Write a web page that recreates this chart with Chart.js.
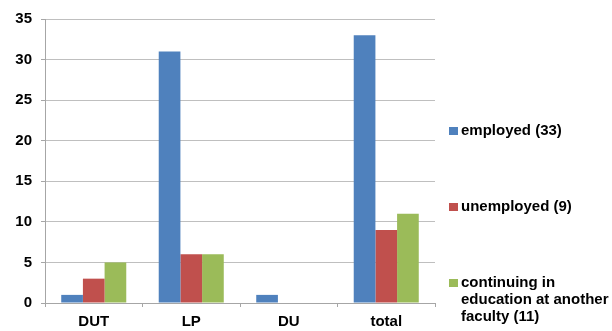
<!DOCTYPE html>
<html>
<head>
<meta charset="utf-8">
<script src="https://cdn.jsdelivr.net/npm/chart.js@4/dist/chart.umd.min.js"></script>
<style>
  html, body { margin: 0; padding: 0; background: #fff; }
  #wrap { position: relative; width: 612px; height: 331px; }
</style>
</head>
<body>
<div id="wrap"><canvas id="c" width="612" height="331"></canvas></div>
<script>
// Graduate outcomes by programme
const categories = ['DUT', 'LP', 'DU', 'total'];
const employed = [1, 31, 1, 33];
const unemployed = [3, 6, 0, 9];
const continuing = [5, 6, 0, 11];
const seriesLabels = [
  ['employed (33)'],
  ['unemployed (9)'],
  ['continuing in', 'education at another', 'faculty (11)']
];
const seriesColors = ['#4F81BD', '#C0504D', '#9BBB59'];
const yTicks = [0, 5, 10, 15, 20, 25, 30, 35];

const FAMILY = '"Liberation Sans", Arial, sans-serif';
const FONT = 'bold 15px ' + FAMILY;

// Legend drawn at the right, items spread down the side
const sideLegend = {
  id: 'sideLegend',
  afterDraw(chart) {
    const ctx = chart.ctx;
    ctx.save();
    ctx.font = FONT;
    ctx.textBaseline = 'middle';
    const firstLines = [131, 207, 283];
    const lineH = 17;
    seriesLabels.forEach((lines, i) => {
      const y0 = firstLines[i];
      ctx.fillStyle = seriesColors[i];
      ctx.fillRect(449, y0 - 4, 9, 8);
      ctx.fillStyle = '#000';
      lines.forEach((t, j) => ctx.fillText(t, 461, y0 + j * lineH));
    });
    ctx.restore();
  }
};

new Chart(document.getElementById('c'), {
  type: 'bar',
  data: {
    labels: categories,
    datasets: [
      { label: seriesLabels[0].join(' '), data: employed, backgroundColor: seriesColors[0] },
      { label: seriesLabels[1].join(' '), data: unemployed, backgroundColor: seriesColors[1] },
      { label: seriesLabels[2].join(' '), data: continuing, backgroundColor: seriesColors[2] }
    ]
  },
  options: {
    responsive: false,
    animation: false,
    layout: { padding: { top: 19, right: 177, left: 0, bottom: 0 } },
    datasets: { bar: { categoryPercentage: 0.667, barPercentage: 1.0 } },
    plugins: {
      legend: { display: false },
      tooltip: { enabled: false }
    },
    scales: {
      x: {
        grid: {
          offset: true,
          drawOnChartArea: false,
          drawTicks: true,
          tickLength: 4,
          color: '#a6a6a6'
        },
        border: { color: '#a6a6a6', width: 1 },
        ticks: {
          color: '#000',
          font: { family: FAMILY, size: 15, weight: 'bold' },
          padding: 6
        },
        afterFit(scale) { scale.height = 28; }
      },
      y: {
        min: 0,
        max: 35,
        afterBuildTicks(scale) { scale.ticks = yTicks.map(v => ({ value: v })); },
        grid: {
          color: '#bfbfbf',
          tickLength: 4,
          tickColor: '#a6a6a6'
        },
        border: { color: '#a6a6a6', width: 1 },
        ticks: {
          color: '#000',
          font: { family: FAMILY, size: 15, weight: 'bold' },
          padding: 9
        },
        afterFit(scale) { scale.width = 45; }
      }
    }
  },
  plugins: [sideLegend]
});
</script>
</body>
</html>
